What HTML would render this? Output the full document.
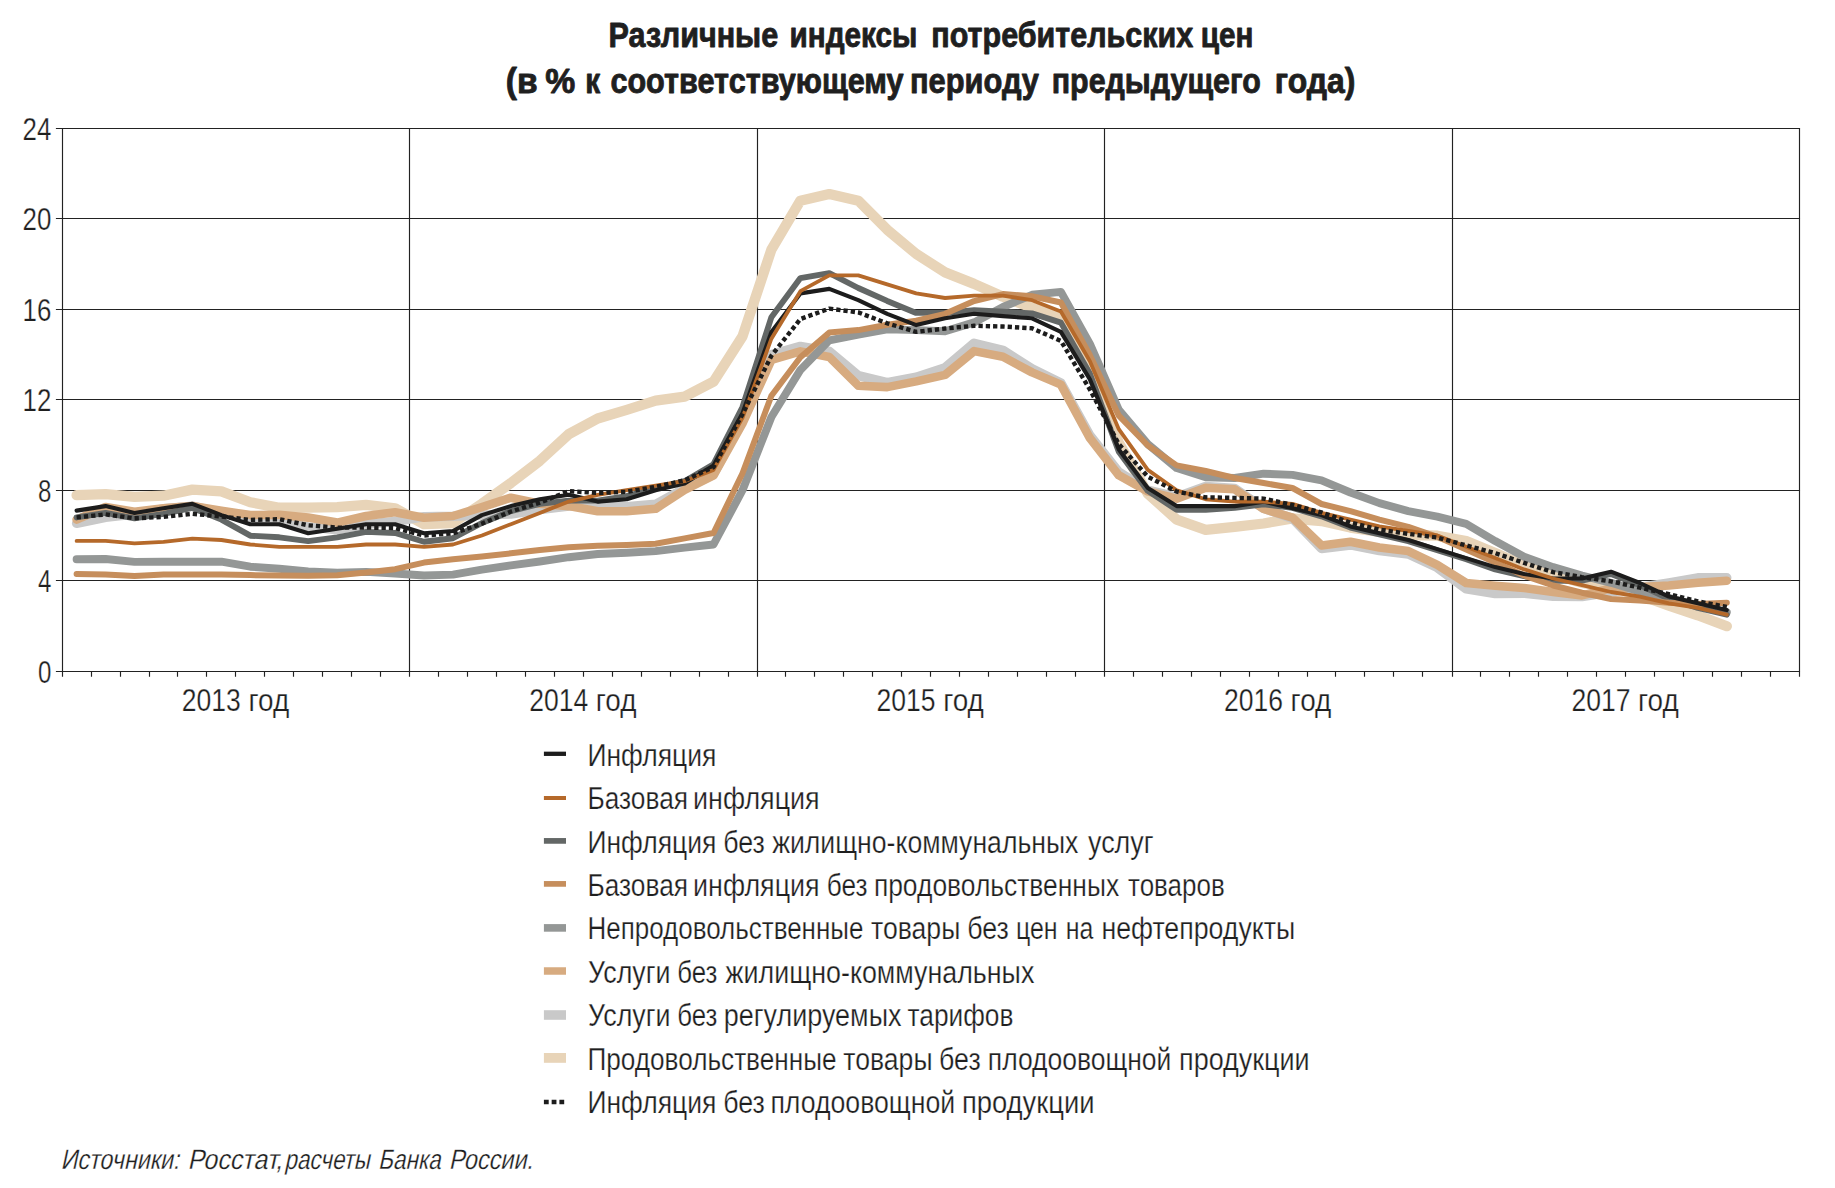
<!DOCTYPE html>
<html lang="ru"><head><meta charset="utf-8"><title>Различные индексы потребительских цен</title>
<style>html,body{margin:0;padding:0;background:#fff}body{width:1835px;height:1188px;overflow:hidden}svg{display:block}text{font-family:"Liberation Sans",Arial,Helvetica,sans-serif;fill:#1f1f1f}</style></head><body>
<svg width="1835" height="1188" viewBox="0 0 1835 1188">
<rect width="1835" height="1188" fill="#fff"/>
<g font-weight="bold" font-size="35.5" stroke="#1f1f1f" stroke-width="0.9" stroke-linejoin="round">
<text x="608.6" y="47.0" textLength="169.6" lengthAdjust="spacingAndGlyphs">Различные</text>
<text x="789.6" y="47.0" textLength="127.8" lengthAdjust="spacingAndGlyphs">индексы</text>
<text x="931.3" y="47.0" textLength="261.9" lengthAdjust="spacingAndGlyphs">потребительских</text>
<text x="1200.8" y="47.0" textLength="52.6" lengthAdjust="spacingAndGlyphs">цен</text>
<text x="505.8" y="93.2" textLength="31.8" lengthAdjust="spacingAndGlyphs">(в</text>
<text x="545.2" y="93.2" textLength="30.0" lengthAdjust="spacingAndGlyphs">%</text>
<text x="585.3" y="93.2" textLength="14.9" lengthAdjust="spacingAndGlyphs">к</text>
<text x="610.4" y="93.2" textLength="293.2" lengthAdjust="spacingAndGlyphs">соответствующему</text>
<text x="910.0" y="93.2" textLength="129.0" lengthAdjust="spacingAndGlyphs">периоду</text>
<text x="1051.7" y="93.2" textLength="209.2" lengthAdjust="spacingAndGlyphs">предыдущего</text>
<text x="1274.8" y="93.2" textLength="80.6" lengthAdjust="spacingAndGlyphs">года)</text>
</g>
<path d="M55.9 671.5H1800.1M55.9 580.5H1800.1M55.9 490.5H1800.1M55.9 399.5H1800.1M55.9 309.5H1800.1M55.9 218.5H1800.1M55.9 128.5H1800.1M62.5 128.0V676.8M409.5 128.0V676.8M757.5 128.0V676.8M1104.5 128.0V676.8M1452.5 128.0V676.8M1799.5 128.0V676.8M91.5 671.5V676.8M120.5 671.5V676.8M149.5 671.5V676.8M177.5 671.5V676.8M206.5 671.5V676.8M235.5 671.5V676.8M264.5 671.5V676.8M293.5 671.5V676.8M322.5 671.5V676.8M351.5 671.5V676.8M380.5 671.5V676.8M438.5 671.5V676.8M467.5 671.5V676.8M496.5 671.5V676.8M525.5 671.5V676.8M554.5 671.5V676.8M583.5 671.5V676.8M612.5 671.5V676.8M641.5 671.5V676.8M670.5 671.5V676.8M699.5 671.5V676.8M728.5 671.5V676.8M785.5 671.5V676.8M814.5 671.5V676.8M843.5 671.5V676.8M872.5 671.5V676.8M901.5 671.5V676.8M930.5 671.5V676.8M959.5 671.5V676.8M988.5 671.5V676.8M1017.5 671.5V676.8M1046.5 671.5V676.8M1075.5 671.5V676.8M1133.5 671.5V676.8M1162.5 671.5V676.8M1191.5 671.5V676.8M1220.5 671.5V676.8M1249.5 671.5V676.8M1278.5 671.5V676.8M1307.5 671.5V676.8M1335.5 671.5V676.8M1364.5 671.5V676.8M1393.5 671.5V676.8M1422.5 671.5V676.8M1480.5 671.5V676.8M1509.5 671.5V676.8M1538.5 671.5V676.8M1567.5 671.5V676.8M1596.5 671.5V676.8M1625.5 671.5V676.8M1654.5 671.5V676.8M1683.5 671.5V676.8M1712.5 671.5V676.8M1741.5 671.5V676.8M1770.5 671.5V676.8" fill="none" stroke="#222" stroke-width="1.15"/>
<polyline points="76.6,495.2 105.6,494.1 134.5,496.8 163.5,495.7 192.4,489.6 221.4,491.4 250.3,502.2 279.3,507.7 308.2,507.7 337.2,507.2 366.1,504.9 395.1,508.3 424.0,524.2 453.0,523.0 481.9,503.8 510.9,483.0 539.8,460.8 568.8,434.1 597.7,418.5 626.7,409.9 655.6,400.7 684.6,396.6 713.5,381.7 742.5,336.4 771.4,249.6 800.4,200.7 829.3,194.1 858.3,200.7 887.2,229.7 916.2,253.9 945.1,272.4 974.1,283.9 1003.0,296.8 1032.0,307.7 1060.9,316.7 1089.9,370.4 1118.8,442.7 1147.8,493.6 1176.7,519.6 1205.7,529.8 1234.6,526.9 1263.6,523.5 1292.5,518.5 1321.5,521.0 1350.4,527.6 1379.4,531.9 1408.3,535.0 1437.3,535.7 1466.2,541.1 1495.2,552.9 1524.1,565.6 1553.1,574.6 1582.0,582.8 1611.0,587.1 1639.9,595.2 1668.9,605.6 1697.8,615.3 1726.8,626.2" fill="none" stroke="#e8d4b8" stroke-width="10.3" stroke-linejoin="round" stroke-linecap="round"/>
<polyline points="76.6,523.3 105.6,517.4 134.5,514.0 163.5,508.8 192.4,506.1 221.4,512.9 250.3,517.4 279.3,521.9 308.2,526.9 337.2,529.8 366.1,524.2 395.1,521.5 424.0,516.7 453.0,516.3 481.9,515.1 510.9,514.0 539.8,509.5 568.8,506.1 597.7,505.4 626.7,506.8 655.6,504.3 684.6,488.4 713.5,474.4 742.5,420.1 771.4,354.5 800.4,346.4 829.3,351.4 858.3,375.6 887.2,382.6 916.2,377.1 945.1,367.6 974.1,343.2 1003.0,350.2 1032.0,368.8 1060.9,383.0 1089.9,435.5 1118.8,472.1 1147.8,490.2 1176.7,497.0 1205.7,486.4 1234.6,488.4 1263.6,508.3 1292.5,518.5 1321.5,548.6 1350.4,545.0 1379.4,550.6 1408.3,554.0 1437.3,567.6 1466.2,588.9 1495.2,593.6 1524.1,593.2 1553.1,596.3 1582.0,596.6 1611.0,592.0 1639.9,587.5 1668.9,582.8 1697.8,577.8 1726.8,577.8" fill="none" stroke="#c9c9c9" stroke-width="9.4" stroke-linejoin="round" stroke-linecap="round"/>
<polyline points="76.6,519.6 105.6,507.0 134.5,511.7 163.5,508.3 192.4,506.1 221.4,510.8 250.3,515.1 279.3,514.9 308.2,517.6 337.2,522.6 366.1,516.0 395.1,512.2 424.0,517.8 453.0,516.0 481.9,507.2 510.9,497.7 539.8,503.8 568.8,506.1 597.7,511.3 626.7,511.3 655.6,508.8 684.6,489.8 713.5,475.3 742.5,423.5 771.4,359.9 800.4,351.4 829.3,357.0 858.3,385.7 887.2,387.1 916.2,381.4 945.1,374.9 974.1,351.1 1003.0,356.8 1032.0,372.4 1060.9,384.6 1089.9,438.2 1118.8,475.3 1147.8,491.4 1176.7,498.6 1205.7,487.8 1234.6,489.3 1263.6,509.0 1292.5,517.6 1321.5,545.4 1350.4,541.8 1379.4,547.5 1408.3,551.1 1437.3,564.9 1466.2,583.0 1495.2,585.7 1524.1,588.0 1553.1,592.0 1582.0,595.4 1611.0,588.4 1639.9,587.1 1668.9,585.5 1697.8,582.8 1726.8,580.7" fill="none" stroke="#d7ab80" stroke-width="8.6" stroke-linejoin="round" stroke-linecap="round"/>
<polyline points="76.6,559.2 105.6,559.0 134.5,561.9 163.5,561.7 192.4,561.7 221.4,561.7 250.3,566.7 279.3,568.7 308.2,571.4 337.2,572.6 366.1,571.9 395.1,573.5 424.0,575.5 453.0,574.6 481.9,569.6 510.9,565.3 539.8,561.5 568.8,557.2 597.7,554.0 626.7,552.7 655.6,551.1 684.6,547.7 713.5,544.5 742.5,490.2 771.4,417.0 800.4,369.9 829.3,340.3 858.3,334.6 887.2,329.4 916.2,330.1 945.1,331.2 974.1,322.4 1003.0,307.0 1032.0,294.8 1060.9,291.9 1089.9,343.9 1118.8,409.9 1147.8,444.1 1176.7,468.1 1205.7,477.3 1234.6,478.0 1263.6,473.7 1292.5,474.9 1321.5,480.3 1350.4,492.5 1379.4,503.1 1408.3,511.1 1437.3,516.7 1466.2,523.9 1495.2,541.1 1524.1,556.7 1553.1,567.1 1582.0,575.5 1611.0,582.8 1639.9,591.4 1668.9,597.7 1697.8,605.6 1726.8,612.4" fill="none" stroke="#949796" stroke-width="7.9" stroke-linejoin="round" stroke-linecap="round"/>
<polyline points="76.6,517.4 105.6,512.9 134.5,518.3 163.5,513.8 192.4,507.9 221.4,519.6 250.3,535.7 279.3,537.3 308.2,541.1 337.2,537.3 366.1,531.9 395.1,533.0 424.0,541.8 453.0,538.2 481.9,523.0 510.9,511.1 539.8,503.8 568.8,500.6 597.7,500.6 626.7,496.1 655.6,488.4 684.6,481.2 713.5,464.2 742.5,407.0 771.4,317.2 800.4,278.1 829.3,273.1 858.3,288.0 887.2,300.9 916.2,312.9 945.1,312.9 974.1,310.2 1003.0,311.8 1032.0,313.4 1060.9,322.6 1089.9,373.7 1118.8,451.8 1147.8,490.9 1176.7,509.9 1205.7,509.9 1234.6,507.9 1263.6,504.3 1292.5,507.9 1321.5,516.3 1350.4,527.6 1379.4,534.3 1408.3,541.1 1437.3,550.2 1466.2,559.2 1495.2,569.4 1524.1,576.2 1553.1,580.7 1582.0,580.7 1611.0,573.9 1639.9,585.2 1668.9,598.8 1697.8,607.9 1726.8,614.7" fill="none" stroke="#636766" stroke-width="5.9" stroke-linejoin="round" stroke-linecap="round"/>
<polyline points="76.6,573.9 105.6,574.6 134.5,576.0 163.5,574.6 192.4,574.4 221.4,574.6 250.3,575.1 279.3,575.5 308.2,575.7 337.2,575.3 366.1,572.6 395.1,569.2 424.0,562.6 453.0,559.2 481.9,556.5 510.9,553.3 539.8,550.0 568.8,547.2 597.7,545.7 626.7,545.0 655.6,543.8 684.6,538.4 713.5,533.0 742.5,473.3 771.4,395.7 800.4,357.2 829.3,332.6 858.3,330.1 887.2,324.7 916.2,320.6 945.1,313.8 974.1,301.1 1003.0,294.1 1032.0,296.2 1060.9,302.5 1089.9,355.2 1118.8,415.6 1147.8,445.5 1176.7,465.4 1205.7,471.0 1234.6,478.0 1263.6,483.0 1292.5,488.0 1321.5,504.0 1350.4,511.1 1379.4,519.6 1408.3,526.9 1437.3,536.8 1466.2,549.5 1495.2,562.4 1524.1,575.5 1553.1,585.5 1582.0,592.7 1611.0,599.0 1639.9,600.4 1668.9,602.7 1697.8,604.0 1726.8,602.7" fill="none" stroke="#c68e5c" stroke-width="6.0" stroke-linejoin="round" stroke-linecap="round"/>
<polyline points="76.6,510.6 105.6,506.1 134.5,512.9 163.5,508.3 192.4,503.8 221.4,515.1 250.3,524.2 279.3,524.2 308.2,533.2 337.2,528.7 366.1,524.2 395.1,524.2 424.0,533.2 453.0,531.0 481.9,515.1 510.9,506.1 539.8,499.3 568.8,494.8 597.7,501.6 626.7,499.3 655.6,490.2 684.6,483.5 713.5,465.4 742.5,413.3 771.4,331.9 800.4,293.4 829.3,288.9 858.3,300.2 887.2,313.8 916.2,325.1 945.1,318.3 974.1,313.8 1003.0,316.1 1032.0,318.3 1060.9,331.9 1089.9,379.4 1118.8,449.5 1147.8,488.0 1176.7,506.1 1205.7,506.1 1234.6,506.1 1263.6,501.6 1292.5,508.3 1321.5,515.1 1350.4,526.4 1379.4,533.2 1408.3,540.0 1437.3,549.1 1466.2,558.1 1495.2,567.1 1524.1,573.9 1553.1,578.5 1582.0,578.5 1611.0,571.7 1639.9,583.0 1668.9,596.6 1697.8,603.3 1726.8,610.1" fill="none" stroke="#1c1c1c" stroke-width="4.1" stroke-linejoin="round" stroke-linecap="round"/>
<polyline points="76.6,540.9 105.6,540.9 134.5,543.4 163.5,541.8 192.4,538.6 221.4,540.0 250.3,544.5 279.3,546.8 308.2,546.8 337.2,546.8 366.1,544.5 395.1,544.5 424.0,546.8 453.0,544.5 481.9,535.5 510.9,524.2 539.8,512.9 568.8,501.6 597.7,494.8 626.7,490.2 655.6,485.7 684.6,481.2 713.5,469.9 742.5,417.9 771.4,338.7 800.4,291.2 829.3,275.4 858.3,275.4 887.2,284.4 916.2,293.4 945.1,298.0 974.1,295.7 1003.0,295.7 1032.0,300.2 1060.9,311.5 1089.9,361.3 1118.8,429.2 1147.8,469.9 1176.7,490.2 1205.7,499.3 1234.6,501.6 1263.6,501.6 1292.5,503.8 1321.5,512.9 1350.4,519.6 1379.4,526.4 1408.3,531.0 1437.3,535.5 1466.2,546.8 1495.2,558.1 1524.1,569.4 1553.1,578.5 1582.0,585.2 1611.0,592.0 1639.9,596.6 1668.9,603.3 1697.8,607.9 1726.8,614.7" fill="none" stroke="#b5692a" stroke-width="3.8" stroke-linejoin="round" stroke-linecap="round"/>
<polyline points="76.6,517.4 105.6,514.4 134.5,518.3 163.5,516.9 192.4,513.8 221.4,516.5 250.3,519.9 279.3,519.2 308.2,525.3 337.2,527.6 366.1,527.6 395.1,528.0 424.0,535.5 453.0,533.4 481.9,523.7 510.9,511.5 539.8,502.7 568.8,491.1 597.7,493.0 626.7,491.8 655.6,486.8 684.6,480.3 713.5,467.2 742.5,414.2 771.4,355.7 800.4,319.0 829.3,308.6 858.3,312.4 887.2,323.3 916.2,331.9 945.1,328.5 974.1,325.8 1003.0,326.5 1032.0,328.3 1060.9,340.9 1089.9,389.6 1118.8,444.1 1147.8,476.7 1176.7,491.6 1205.7,497.3 1234.6,497.9 1263.6,498.6 1292.5,504.9 1321.5,512.4 1350.4,522.6 1379.4,529.6 1408.3,533.9 1437.3,537.5 1466.2,545.4 1495.2,553.1 1524.1,562.9 1553.1,572.1 1582.0,577.1 1611.0,581.4 1639.9,587.7 1668.9,594.1 1697.8,601.3 1726.8,607.0" fill="none" stroke="#1c1c1c" stroke-width="4.4" stroke-dasharray="4.3 3.0" stroke-linejoin="round"/>
<g font-size="31" text-anchor="end" stroke="#fff" stroke-width="0.25">
<text x="51.4" y="682.8" textLength="13.4" lengthAdjust="spacingAndGlyphs">0</text>
<text x="51.4" y="592.3" textLength="13.4" lengthAdjust="spacingAndGlyphs">4</text>
<text x="51.4" y="501.8" textLength="13.4" lengthAdjust="spacingAndGlyphs">8</text>
<text x="51.4" y="411.4" textLength="28.8" lengthAdjust="spacingAndGlyphs">12</text>
<text x="51.4" y="320.9" textLength="28.8" lengthAdjust="spacingAndGlyphs">16</text>
<text x="51.4" y="230.4" textLength="28.8" lengthAdjust="spacingAndGlyphs">20</text>
<text x="51.4" y="139.9" textLength="28.8" lengthAdjust="spacingAndGlyphs">24</text>
</g>
<g font-size="31" stroke="#fff" stroke-width="0.25">
<text x="181.8" y="710.8" textLength="59.0" lengthAdjust="spacingAndGlyphs">2013</text>
<text x="248.5" y="710.8" textLength="40.7" lengthAdjust="spacingAndGlyphs">год</text>
<text x="529.2" y="710.8" textLength="59.0" lengthAdjust="spacingAndGlyphs">2014</text>
<text x="595.8" y="710.8" textLength="40.7" lengthAdjust="spacingAndGlyphs">год</text>
<text x="876.6" y="710.8" textLength="59.0" lengthAdjust="spacingAndGlyphs">2015</text>
<text x="943.2" y="710.8" textLength="40.7" lengthAdjust="spacingAndGlyphs">год</text>
<text x="1224.0" y="710.8" textLength="59.0" lengthAdjust="spacingAndGlyphs">2016</text>
<text x="1290.6" y="710.8" textLength="40.7" lengthAdjust="spacingAndGlyphs">год</text>
<text x="1571.5" y="710.8" textLength="59.0" lengthAdjust="spacingAndGlyphs">2017</text>
<text x="1638.0" y="710.8" textLength="40.7" lengthAdjust="spacingAndGlyphs">год</text>
</g>
<g font-size="31" stroke="#fff" stroke-width="0.25">
<path d="M543.9 753.8H566.0" stroke="#1c1c1c" stroke-width="4.3" fill="none"/>
<text x="587.5" y="766.0" textLength="128.8" lengthAdjust="spacingAndGlyphs">Инфляция</text>
<path d="M543.9 798.0H566.0" stroke="#b5692a" stroke-width="4.0" fill="none"/>
<text x="587.5" y="808.8" textLength="100.5" lengthAdjust="spacingAndGlyphs">Базовая</text>
<text x="693.1" y="808.8" textLength="126.5" lengthAdjust="spacingAndGlyphs">инфляция</text>
<path d="M543.9 840.9H566.0" stroke="#636766" stroke-width="5.7" fill="none"/>
<text x="587.5" y="852.6" textLength="128.8" lengthAdjust="spacingAndGlyphs">Инфляция</text>
<text x="723.2" y="852.6" textLength="41.6" lengthAdjust="spacingAndGlyphs">без</text>
<text x="772.2" y="852.6" textLength="306.2" lengthAdjust="spacingAndGlyphs">жилищно-коммунальных</text>
<text x="1088.0" y="852.6" textLength="65.6" lengthAdjust="spacingAndGlyphs">услуг</text>
<path d="M543.9 883.9H566.0" stroke="#c68e5c" stroke-width="5.7" fill="none"/>
<text x="587.5" y="895.6" textLength="100.5" lengthAdjust="spacingAndGlyphs">Базовая</text>
<text x="693.1" y="895.6" textLength="126.5" lengthAdjust="spacingAndGlyphs">инфляция</text>
<text x="826.7" y="895.6" textLength="40.7" lengthAdjust="spacingAndGlyphs">без</text>
<text x="873.9" y="895.6" textLength="245.2" lengthAdjust="spacingAndGlyphs">продовольственных</text>
<text x="1128.1" y="895.6" textLength="96.6" lengthAdjust="spacingAndGlyphs">товаров</text>
<path d="M543.9 927.9H566.0" stroke="#949796" stroke-width="7.6" fill="none"/>
<text x="587.5" y="938.5" textLength="275.9" lengthAdjust="spacingAndGlyphs">Непродовольственные</text>
<text x="871.0" y="938.5" textLength="89.3" lengthAdjust="spacingAndGlyphs">товары</text>
<text x="967.2" y="938.5" textLength="41.6" lengthAdjust="spacingAndGlyphs">без</text>
<text x="1015.9" y="938.5" textLength="41.6" lengthAdjust="spacingAndGlyphs">цен</text>
<text x="1065.8" y="938.5" textLength="27.6" lengthAdjust="spacingAndGlyphs">на</text>
<text x="1101.4" y="938.5" textLength="193.8" lengthAdjust="spacingAndGlyphs">нефтепродукты</text>
<path d="M543.9 971.0H566.0" stroke="#d7ab80" stroke-width="7.5" fill="none"/>
<text x="588.0" y="982.6" textLength="82.5" lengthAdjust="spacingAndGlyphs">Услуги</text>
<text x="677.3" y="982.6" textLength="40.1" lengthAdjust="spacingAndGlyphs">без</text>
<text x="725.6" y="982.6" textLength="308.7" lengthAdjust="spacingAndGlyphs">жилищно-коммунальных</text>
<path d="M543.9 1015.0H566.0" stroke="#c9c9c9" stroke-width="9.6" fill="none"/>
<text x="588.0" y="1025.6" textLength="82.5" lengthAdjust="spacingAndGlyphs">Услуги</text>
<text x="677.3" y="1025.6" textLength="40.1" lengthAdjust="spacingAndGlyphs">без</text>
<text x="723.8" y="1025.6" textLength="177.7" lengthAdjust="spacingAndGlyphs">регулируемых</text>
<text x="907.6" y="1025.6" textLength="105.8" lengthAdjust="spacingAndGlyphs">тарифов</text>
<path d="M543.9 1057.9H566.0" stroke="#e8d4b8" stroke-width="9.8" fill="none"/>
<text x="587.5" y="1069.8" textLength="249.0" lengthAdjust="spacingAndGlyphs">Продовольственные</text>
<text x="843.3" y="1069.8" textLength="89.2" lengthAdjust="spacingAndGlyphs">товары</text>
<text x="939.1" y="1069.8" textLength="41.6" lengthAdjust="spacingAndGlyphs">без</text>
<text x="987.8" y="1069.8" textLength="183.6" lengthAdjust="spacingAndGlyphs">плодоовощной</text>
<text x="1179.1" y="1069.8" textLength="130.5" lengthAdjust="spacingAndGlyphs">продукции</text>
<path d="M543.9 1102.0H564.2" stroke="#1c1c1c" stroke-width="4.4" stroke-dasharray="4.8 2.95" fill="none"/>
<text x="587.5" y="1112.6" textLength="128.8" lengthAdjust="spacingAndGlyphs">Инфляция</text>
<text x="723.2" y="1112.6" textLength="41.6" lengthAdjust="spacingAndGlyphs">без</text>
<text x="770.4" y="1112.6" textLength="184.8" lengthAdjust="spacingAndGlyphs">плодоовощной</text>
<text x="961.9" y="1112.6" textLength="132.7" lengthAdjust="spacingAndGlyphs">продукции</text>
</g>
<g font-size="28" stroke="#fff" stroke-width="0.25">
<text transform="translate(60.4 1169.1) skewX(-12)" textLength="118.7" lengthAdjust="spacingAndGlyphs">Источники:</text>
<text transform="translate(187.4 1169.1) skewX(-12)" textLength="94.9" lengthAdjust="spacingAndGlyphs">Росстат,</text>
<text transform="translate(284.2 1169.1) skewX(-12)" textLength="85.5" lengthAdjust="spacingAndGlyphs">расчеты</text>
<text transform="translate(378.0 1169.1) skewX(-12)" textLength="62.5" lengthAdjust="spacingAndGlyphs">Банка</text>
<text transform="translate(448.8 1169.1) skewX(-12)" textLength="84.1" lengthAdjust="spacingAndGlyphs">России.</text>
</g>
</svg></body></html>
